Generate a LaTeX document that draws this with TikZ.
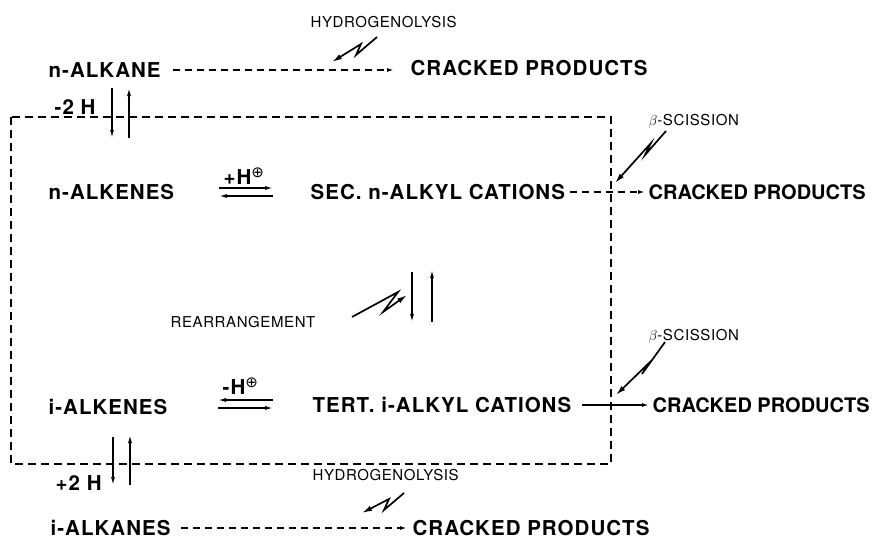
\documentclass[tikz,border=0pt]{standalone}
\usepackage{fontspec}
\setmainfont{TeX Gyre Heros}
\newfontfamily\labfont[LetterSpace=5]{TeX Gyre Heros}
\newfontfamily\tightfont{TeX Gyre Heros}
\newfontfamily\notefont[LetterSpace=4]{TeX Gyre Heros}
\newfontfamily\symfont{DejaVu Sans}
\usetikzlibrary{arrows.meta,calc}
% zigzag "reaction" arrow: tip, then start, kink 1, kink 2 (relative to tip)
\newcommand{\bolt}[4]{\draw[boltarr] ([shift={#2}]#1) -- ([shift={#3}]#1) -- ([shift={#4}]#1) -- (#1);}
\newcommand{\cplus}{\raisebox{7pt}{\symfont\mdseries\fontsize{15}{15}\selectfont ⊕}}

\begin{document}
\begin{tikzpicture}[x=1pt,y=-1pt,line width=1.3pt,>={Latex[length=7pt,width=4pt]},
  species/.style={anchor=west,inner sep=0pt,text height=14pt,text depth=0pt,font=\labfont\bfseries\fontsize{20.5}{22}\selectfont},
  right species/.style={species,font=\tightfont\bfseries\fontsize{20}{22}\selectfont},
  note/.style={anchor=west,inner sep=0pt,text height=11pt,text depth=0pt,font=\notefont\fontsize{15}{17}\selectfont},
  boxline/.style={dash pattern=on 8pt off 5pt,line width=1.4pt},
  dasharr/.style={->,dash pattern=on 7pt off 5pt,line width=1.4pt},
  eqarr/.style={->,line width=1.3pt,>={Latex[length=8pt,width=4pt]}},
  boltarr/.style={->,line width=1.7pt,line join=miter,>={Latex[length=10pt,width=5.5pt]}}]
\useasboundingbox (0,0) rectangle (876,538);
% species
\node[species] (nalkane) at (48,70) {n-ALKANE};
\node[species] (crk1) at (410,68) {CRACKED PRODUCTS};
\node[species] (mtwoH) at (54,107) {-2 H};
\node[species] (nalkenes) at (48,192) {n-ALKENES};
\node[species] (addH) at (223,177) {+H\cplus};
\node[species] (secn) at (310,192) {SEC. n-ALKYL CATIONS};
\node[right species] (crk2) at (648,192) {CRACKED PRODUCTS};
\node[species] (ialkenes) at (48,407) {i-ALKENES};
\node[species] (remH) at (222,387) {-H\cplus};
\node[species] (terti) at (312,405) {TERT. i-ALKYL CATIONS};
\node[right species] (crk3) at (652,405) {CRACKED PRODUCTS};
\node[species] (ptwoH) at (55,483) {+2 H};
\node[species] (ialkanes) at (50,528) {i-ALKANES};
\node[species] (crk4) at (412,528) {CRACKED PRODUCTS};
% small notes
\node[note] (hyd1) at (310,22) {HYDROGENOLYSIS};
\node[note] (beta1) at (648,120) {$\beta$-SCISSION};
\node[note] (rearr) at (170,322) {REARRANGEMENT};
\node[note] (beta2) at (648,335) {$\beta$-SCISSION};
\node[note] (hyd2) at (312,475) {HYDROGENOLYSIS};
% dashed box
\draw[boxline] (11,117) rectangle (611,464);
% cracking routes
\draw[dasharr,shorten <=12pt,shorten >=16pt] (nalkane.east) -- (nalkane.east -| crk1.west);
\draw[dasharr,shorten <=4pt,shorten >=3pt] (secn.east) -- (crk2.west);
\draw[->,line width=2.6pt,shorten <=10pt,shorten >=3pt] (terti.east) -- (crk3.west);
\draw[dasharr,shorten <=10pt,shorten >=5pt] (ialkanes.east) -- (ialkanes.east -| crk4.west);
% dehydrogenation / hydrogenation
\draw[eqarr] ([shift={(64,18)}]nalkane.west) -- ([shift={(64,68)}]nalkane.west);
\draw[eqarr] ([shift={(81,68)}]nalkane.west) -- ([shift={(81,18)}]nalkane.west);
\draw[eqarr] ([shift={(65,30)}]ialkenes.west) -- ([shift={(65,78)}]ialkenes.west);
\draw[eqarr] ([shift={(82,78)}]ialkenes.west) -- ([shift={(82,28)}]ialkenes.west);
% protonation equilibria
\draw[eqarr] ([shift={(171,-4)}]nalkenes.west) -- ([shift={(-37,-4)}]secn.west);
\draw[eqarr] ([shift={(-37,4)}]secn.west) -- ([shift={(171,4)}]nalkenes.west);
\draw[eqarr] ([shift={(225,-7)}]ialkenes.west) -- ([shift={(170,-7)}]ialkenes.west);
\draw[eqarr] ([shift={(170,1)}]ialkenes.west) -- ([shift={(225,1)}]ialkenes.west);
% rearrangement
\draw[eqarr] ([shift={(102,80)}]secn.west) -- ([shift={(102,130)}]secn.west);
\draw[eqarr] ([shift={(122,130)}]secn.west) -- ([shift={(122,78)}]secn.west);
% zigzag arrows
\coordinate (hydtip1) at ([shift={(-78,-6)}]crk1.west);
\coordinate (betatip1) at ([shift={(-33,-9)}]crk2.west);
\coordinate (rtip) at ([shift={(97,103)}]secn.west);
\coordinate (betatip2) at ([shift={(-36,-10)}]crk3.west);
\coordinate (hydtip2) at ([shift={(-50,-15)}]crk4.west);
\bolt{hydtip1}{(45,-25)}{(24,-7)}{(29,-18)}
\bolt{betatip1}{(51,-52)}{(30,-28)}{(36,-40)}
\bolt{rtip}{(-55,22)}{(-9,-3)}{(-24,17)}
\bolt{betatip2}{(49,-53)}{(26,-21)}{(34,-33)}
\bolt{hydtip2}{(42,-20)}{(22,-3)}{(27,-14)}
\end{tikzpicture}
\end{document}
